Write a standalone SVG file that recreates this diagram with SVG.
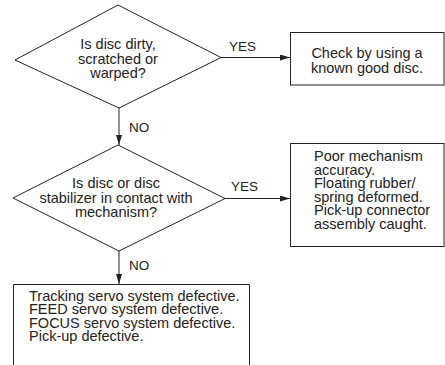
<svg xmlns="http://www.w3.org/2000/svg" width="445" height="365" viewBox="0 0 445 365">
<style>
.shape{fill:#fff;stroke:#222;stroke-width:1}
.line{fill:none;stroke:#222;stroke-width:1}
text{font-family:"Liberation Sans",Arial,sans-serif;fill:#222}
.t{font-size:14.5px}
.lbl{font-size:13.5px}
.c{text-anchor:middle}
</style>
<defs>
<marker id="arr" viewBox="0 0 10 6" refX="10" refY="3" markerWidth="10" markerHeight="6" markerUnits="userSpaceOnUse" orient="auto">
<path d="M0,0 L10,3 L0,6 Z" fill="#222"/>
</marker>
</defs>
<rect width="445" height="365" fill="#fff"/>
<g id="connectors">
<line class="line" x1="221" y1="57.5" x2="290" y2="57.5" marker-end="url(#arr)"/>
<text class="lbl" x="229" y="51">YES</text>
<line class="line" x1="119" y1="108" x2="119" y2="145" marker-end="url(#arr)"/>
<text class="lbl" x="129" y="132">NO</text>
<line class="line" x1="225" y1="198.5" x2="290" y2="198.5" marker-end="url(#arr)"/>
<text class="lbl" x="231" y="190.5">YES</text>
<line class="line" x1="119" y1="251" x2="119" y2="284" marker-end="url(#arr)"/>
<text class="lbl" x="129" y="270">NO</text>
</g>
<g id="q1">
<polygon class="shape" points="118,5 221,57.5 119,108 15,60"/>
<text class="t c" x="118" y="49">Is disc dirty,</text>
<text class="t c" x="118" y="63.5">scratched or</text>
<text class="t c" x="118" y="78">warped?</text>
</g>
<g id="r1">
<rect class="shape" x="290.5" y="32.5" width="153.5" height="52.5"/>
<text class="t c" x="367" y="58">Check by using a</text>
<text class="t c" x="367" y="72.5">known good disc.</text>
</g>
<g id="q2">
<polygon class="shape" points="118,145 225,198.5 119,251 13,198"/>
<text class="t c" x="116" y="188">Is disc or disc</text>
<text class="t c" x="116" y="202.5">stabilizer in contact with</text>
<text class="t c" x="116" y="217">mechanism?</text>
</g>
<g id="r2">
<rect class="shape" x="290.5" y="143.5" width="153.5" height="103"/>
<text class="t" x="314" y="161">Poor mechanism</text>
<text class="t" x="314" y="174.5">accuracy.</text>
<text class="t" x="314" y="188">Floating rubber/</text>
<text class="t" x="314" y="201.5">spring deformed.</text>
<text class="t" x="314" y="215">Pick-up connector</text>
<text class="t" x="314" y="228.5">assembly caught.</text>
</g>
<g id="r3">
<path class="line" d="M13.5,366 V284.5 H249.5 V366"/>
<text class="t" x="29" y="300.5">Tracking servo system defective.</text>
<text class="t" x="29" y="314">FEED servo system defective.</text>
<text class="t" x="29" y="327.5">FOCUS servo system defective.</text>
<text class="t" x="29" y="341">Pick-up defective.</text>
</g>
</svg>
